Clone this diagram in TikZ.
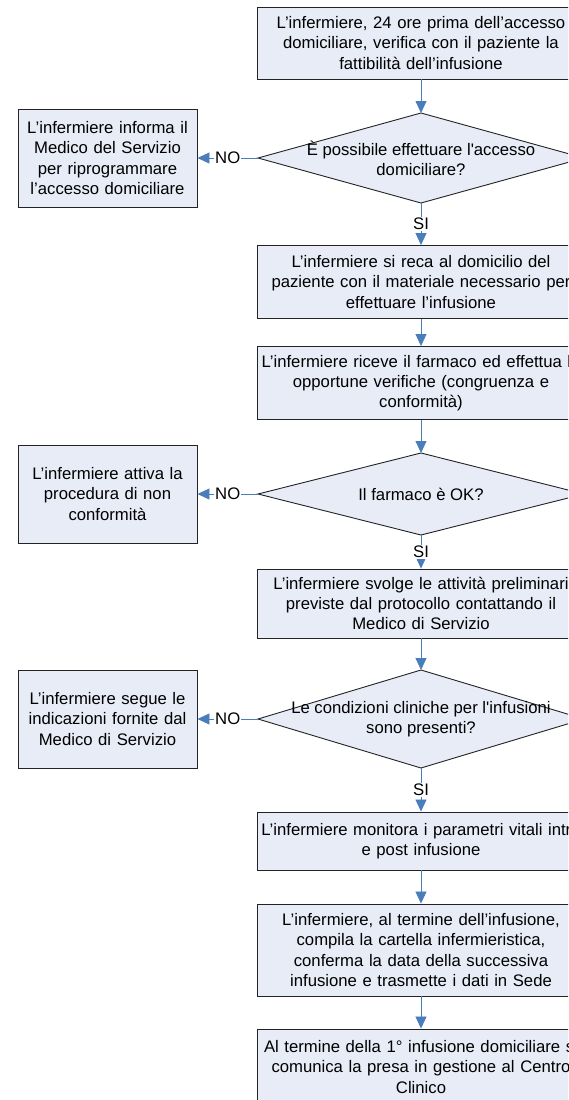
\documentclass[tikz,border=0pt]{standalone}
\usepackage{fontspec}
\setmainfont{Liberation Sans}
\usetikzlibrary{shapes.geometric,arrows.meta}
\definecolor{boxfill}{RGB}{232,236,247}
\definecolor{arrowblue}{RGB}{74,126,187}
\definecolor{edgegray}{RGB}{35,35,35}
\begin{document}
\begin{tikzpicture}[x=1pt,y=-1pt,
  every node/.style={font=\fontsize{16.7}{20.3}\selectfont},
  proc/.style={draw=edgegray, fill=boxfill, line width=0.9pt, text width=322pt, inner sep=3pt, align=center},
  side/.style={draw=edgegray, fill=boxfill, line width=0.9pt, text width=173pt, inner sep=3pt, minimum height=98pt, align=center},
  dec/.style={diamond, draw=edgegray, fill=boxfill, line width=0.9pt, minimum width=326pt, inner sep=0pt, outer sep=0pt},
  dectext/.style={align=center, inner sep=0pt},
  flow/.style={draw=arrowblue, line width=0.8pt, -{Triangle[length=12pt,width=11pt]}},
  lab/.style={fill=white, inner sep=1pt}
]
\useasboundingbox (0,0) rectangle (568,1100);
\clip (0,0) rectangle (568,1100);

% main column
\node[proc, minimum height=72pt] (b1) at (421,43) {L’infermiere, 24 ore prima dell’accesso\\domiciliare, verifica con il paziente la\\fattibilità dell’infusione};
\node[dec, minimum height=90pt] (d1) at (421,158) {};
\node[dectext] (d1t) at (421,158) {È possibile effettuare l\textquotesingle accesso\\domiciliare?};
\node[proc, minimum height=73pt] (b2) at (421,282) {L’infermiere si reca al domicilio del\\paziente con il materiale necessario per\\effettuare l’infusione};
\node[proc, minimum height=73pt] (b3) at (421,383) {L’infermiere riceve il farmaco ed effettua le\\opportune verifiche (congruenza e\\conformità)};
\node[dec, minimum height=82pt] (d2) at (421,494) {};
\node[dectext] (d2t) at (421,494) {Il farmaco è OK?};
\node[proc, minimum height=69pt] (b4) at (421,603.5) {L’infermiere svolge le attività preliminari\\previste dal protocollo contattando il\\Medico di Servizio};
\node[dec, minimum height=98pt] (d3) at (421,719) {};
\node[dectext] (d3t) at (421,719.5) {Le condizioni cliniche per l\textquotesingle infusioni\\sono presenti?};
\node[proc, minimum height=58pt] (b5) at (421,841) {L’infermiere monitora i parametri vitali intra\\e post infusione};
\node[proc, minimum height=92pt] (b6) at (421,950) {L’infermiere, al termine dell’infusione,\\compila la cartella infermieristica,\\conferma la data della successiva\\infusione e trasmette i dati in Sede};
\node[proc, minimum height=76pt] (b7) at (421,1067) {Al termine della 1° infusione domiciliare si\\comunica la presa in gestione al Centro\\Clinico};

% side column
\node[side] (l1) at (107.5,158) {L’infermiere informa il\\Medico del Servizio\\per riprogrammare\\l’accesso domiciliare};
\node[side] (l2) at (107.5,494) {L’infermiere attiva la\\procedura di non\\conformità};
\node[side] (l3) at (107.5,719) {L’infermiere segue le\\indicazioni fornite dal\\Medico di Servizio};

% connectors
\draw[flow] (b1) -- (d1);
\draw[flow] (d1) -- node[lab] {SI} (b2);
\draw[flow] (b2) -- (b3);
\draw[flow] (b3) -- (d2);
\draw[flow] (d2) -- node[lab] {SI} (b4);
\draw[flow] (b4) -- (d3);
\draw[flow] (d3) -- node[lab] {SI} (b5);
\draw[flow] (b5) -- (b6);
\draw[flow] (b6) -- (b7);
\draw[flow] (d1) -- node[lab] {NO} (l1);
\draw[flow] (d2) -- node[lab] {NO} (l2);
\draw[flow] (d3) -- node[lab] {NO} (l3);
\end{tikzpicture}
\end{document}
